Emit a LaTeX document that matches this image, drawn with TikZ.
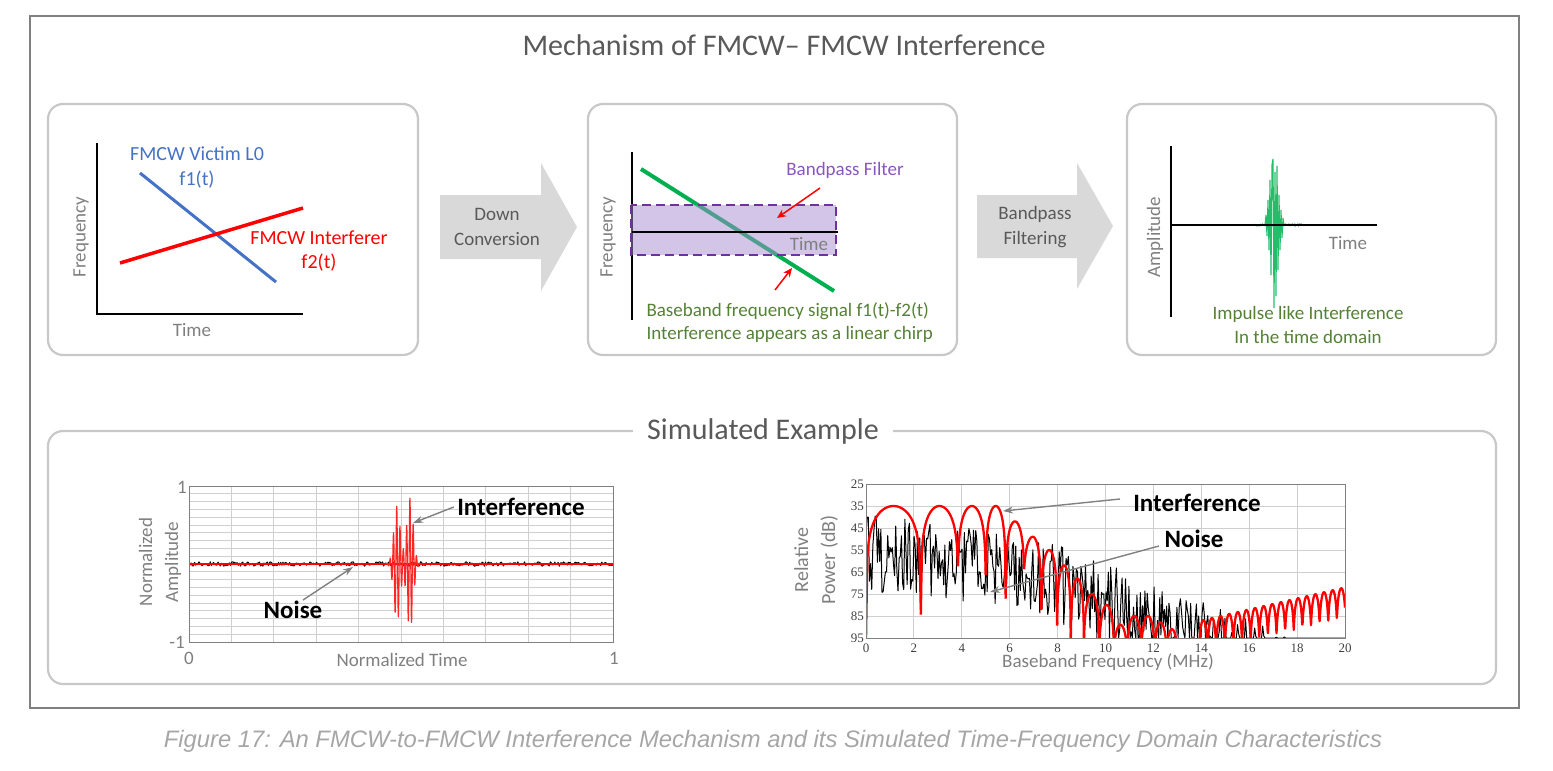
\documentclass[tikz,border=0pt]{standalone}
\usepackage{fontspec}
\setmainfont{Carlito}
\newfontfamily\capfont{Liberation Sans}
\newfontfamily\tickfont{Liberation Serif}
\usetikzlibrary{arrows.meta}
\definecolor{framec}{HTML}{808080}
\definecolor{panelc}{HTML}{C8C8C8}
\definecolor{ttl}{HTML}{595959}
\definecolor{axlab}{HTML}{7F7F7F}
\definecolor{vblue}{HTML}{4472C4}
\definecolor{bgreen}{HTML}{00B050}
\definecolor{tgreen}{HTML}{548235}
\definecolor{purp}{HTML}{7030A0}
\definecolor{purpt}{HTML}{8B55C0}
\definecolor{purpfill}{HTML}{A58CD2}
\definecolor{arrowfill}{HTML}{D9D9D9}
\definecolor{arrtxt}{HTML}{595959}
\definecolor{captxt}{HTML}{A6A6A6}
\definecolor{gridc}{HTML}{CFCFCF}
\definecolor{calloutc}{HTML}{808080}
\definecolor{tickc}{HTML}{404040}
\begin{document}
\begin{tikzpicture}[x=1pt,y=-1pt,
  panelbox/.style={draw=panelc, line width=2.2pt, rounded corners=15pt, minimum height=251pt},
  axisline/.style={black, line width=2.5pt},
  graylab/.style={text=axlab, font=\fontsize{19}{25}\selectfont, align=center},
  arrowtxt/.style={text=arrtxt, font=\fontsize{19}{25}\selectfont, align=center},
  callout/.style={-{Stealth[length=10pt,width=7pt]}, draw=calloutc, line width=1.4pt},
  boldlab/.style={font=\bfseries\fontsize{25}{30}\selectfont},
  redarr/.style={-{Stealth[length=9pt,width=8pt]}, red, line width=1.5pt},
  gridline/.style={gridc, line width=0.9pt},
  ticklab/.style={text=tickc, font=\tickfont\fontsize{13}{15}\selectfont},
  redcurve/.style={red, line width=2.3pt, line join=round},
  noiseline/.style={black, line width=1pt, line join=round},
]
\useasboundingbox (0,0) rectangle (1553,771);
\pgfmathsetseed{11}
% outer frame
\draw[framec, line width=2pt] (30,16) rectangle (1519,708);
\node[text=ttl, font=\fontsize{30}{36}\selectfont] (title) at (784,45) {Mechanism of FMCW\textendash{} FMCW Interference};

% panels
\node[panelbox, minimum width=370pt] (p1) at (233,229.5) {};
\node[panelbox, minimum width=369pt] (p2) at (772.5,229.5) {};
\node[panelbox, minimum width=369pt] (p3) at (1311.5,229.5) {};
\node[panelbox, minimum width=1448pt, minimum height=253pt] (sim) at (772,557.5) {};
\node[fill=white, text=ttl, font=\fontsize{30}{36}\selectfont, inner xsep=14pt] (simt) at (763,431) {Simulated Example};

% block arrows
\fill[arrowfill] (440,195) -- (541,195) -- (541,163) -- (577,227) -- (541,291) -- (541,259) -- (440,259) -- cycle;
\node[arrowtxt] (a1) at (497,227) {Down\\Conversion};
\fill[arrowfill] (977,195) -- (1077,195) -- (1077,163) -- (1113,226) -- (1077,289) -- (1077,258) -- (977,258) -- cycle;
\node[arrowtxt] (a2) at (1035,227) {Bandpass\\Filtering};

% panel 1
\draw[axisline] (97,143) -- (97,314) -- (303,314);
\draw[vblue, line width=3pt] (140,173) -- (276,282);
\draw[red, line width=3.5pt] (120,263) -- (303,208);
\node[text=vblue, font=\fontsize{20}{25}\selectfont, align=center] (victim) at (197,167) {FMCW Victim L0\\f1(t)};
\node[text=red, font=\fontsize{20}{24}\selectfont, align=center] (interf) at (319,251) {FMCW Interferer\\f2(t)};
\node[graylab, rotate=90] (freq1) at (81,237) {Frequency};
\node[graylab] (time1) at (192,330) {Time};

% panel 2
\draw[black, line width=2.2pt] (632,152) -- (632,320);
\draw[bgreen, line width=4pt] (641,169) -- (834,291);
\fill[purpfill, opacity=0.5] (631,205) rectangle (836,255);
\draw[black, line width=2.2pt] (632,232) -- (838,232);
\draw[purp, line width=2pt, dash pattern=on 9pt off 5pt] (631,205) rectangle (836,255);
\node[text=purpt, font=\fontsize{19}{23}\selectfont] (bpf) at (845,170) {Bandpass Filter};
\coordinate (bpfs) at (820,188);
\coordinate (bpfe) at (777,218);
\draw[redarr] (bpfs) -- (bpfe);
\coordinate (bbs) at (775,290);
\coordinate (bbe) at (792,268);
\draw[redarr] (bbs) -- (bbe);
\node[graylab] (time2) at (809,244) {Time};
\node[graylab, rotate=90] (freq2) at (608,237) {Frequency};
\node[text=tgreen, font=\fontsize{19}{23}\selectfont, align=left, anchor=west] (bb) at (643,323) {Baseband frequency signal f1(t)-f2(t)\\Interference appears as a linear chirp};

% panel 3
\draw[axisline] (1171,146) -- (1171,317);
\draw[bgreen!60, line width=0.8pt] plot[domain=1252:1303, samples=70, variable=\t] (\t,{225+1.5*rand});
\draw[bgreen!85, line width=1.1pt] (1265,225) -- (1266,215) -- (1267,236) -- (1268,200) -- (1269,250) -- (1270,180) -- (1271,275) -- (1272,165) -- (1273,159) -- (1274,308) -- (1275,172) -- (1276,296) -- (1277,166) -- (1278,270) -- (1279,195) -- (1280,250) -- (1281,210) -- (1282,238) -- (1283,218) -- (1284,225);
\draw[axisline] (1171,225) -- (1377,225);
\node[graylab] (time3) at (1348,243) {Time};
\node[graylab, rotate=90] (amp3) at (1155,237) {Amplitude};
\node[text=tgreen, font=\fontsize{19}{24}\selectfont, align=center] (imp) at (1308,325) {Impulse like Interference\\In the time domain};

% bottom-left chart
\foreach \i in {1,...,9} \draw[gridline] ({189+42.4*\i},486) -- ({189+42.4*\i},642);
\foreach \j in {1,...,19} \draw[gridline] (189,{486+7.8*\j}) -- (613,{486+7.8*\j});
\begin{scope}
\clip (189,486) rectangle (613,642);
\draw[black, line width=1pt, line join=round] plot[domain=189:613, samples=380, variable=\t] (\t,{564+2.2*rand});
\draw[red, line width=1.2pt] (189,564) -- (613,564);
\draw[red!85, line width=1.1pt, line join=round] plot[domain=386:422, samples=260, variable=\t] (\t,{564-(58*exp(-((\t-397)/4.5)^2)+66*exp(-((\t-410)/4.5)^2))*sin(deg(2*pi*(\t-386)/3.3))});
\end{scope}
\draw[framec, line width=1pt] (189,486) rectangle (613,642);
\node[graylab] (ly1) at (182,487) {1};
\node[graylab] (lym) at (177,642) {-1};
\node[graylab] (lx0) at (189,658) {0};
\node[graylab] (lx1) at (614,658) {1};
\node[graylab] (lxt) at (402,660) {Normalized Time};
\node[graylab, rotate=90, font=\fontsize{19}{26}\selectfont] (lyt) at (160,562) {Normalized\\Amplitude};
\node[boldlab] (lint) at (521,507) {Interference};
\coordinate (lintt) at (413,523);
\draw[callout] (lint.west) -- (lintt);
\node[boldlab] (lnoise) at (293,610) {Noise};
\coordinate (lnoises) at (303,600);
\coordinate (lnoiset) at (353,567);
\draw[callout] (lnoises) -- (lnoiset);

% bottom-right chart
\foreach \i in {1,...,9} \draw[gridline] ({866+47.9*\i},484) -- ({866+47.9*\i},638);
\foreach \j in {1,...,6} \draw[gridline] (866,{484+22*\j}) -- (1345,{484+22*\j});
\begin{scope}
\clip (866,484) rectangle (1345,638);
\draw[noiseline] plot[domain=0:20, samples=420, variable=\t] ({866+23.95*\t},{484+2.2*min(70,max(14,32+0.8*\t+3.5*max(\t-6,0)+18*rand))});
\foreach \la/\lb/\lp/\ldl/\ldr in {0/2.29/35/95/84, 2.29/3.84/35/84/62, 3.84/5.0/35/62/66, 5.0/5.83/35/66/77, 5.83/6.6/42/77/62, 6.6/7.32/49/62/82, 7.32/7.98/55/82/89, 7.98/8.55/62/89/96, 8.55/9.1/68/96/96, 9.1/9.75/75/96/96, 9.75/10.35/80/96/96, 10.35/10.9/89/96/96, 10.9/11.5/85/96/96, 11.5/12.05/85/96/96, 12.05/12.55/88/96/96, 12.55/13.0/91/96/96}{
  \pgfmathsetmacro\lc{(\la+\lb)/2}
  \pgfmathsetmacro\lh{(\lb-\la)/2}
  \pgfmathsetmacro\lel{pow(10,(\lp-\ldl)/20)}
  \pgfmathsetmacro\ler{pow(10,(\lp-\ldr)/20)}
  \draw[redcurve] plot[domain=\la:\lb, samples=41, variable=\t] ({866+23.95*\t},{484+2.2*(\lp-25-20*log10((cos(90*(\t-\lc)/\lh)+ifthenelse(\t<\lc,\lel,\ler))/(1+ifthenelse(\t<\lc,\lel,\ler))))});
}
\draw[redcurve] plot[domain=13.9:20, samples=500, variable=\t] ({866+23.95*\t},{484+2.2*(62-2.5*(\t-14)-20*log10((abs(sin(500*(\t-13.9)))+0.25)/1.25))});
\end{scope}
\draw[framec, line width=1pt] (866,484) rectangle (1345,638);
\foreach \v in {25,35,...,95} \node[ticklab, anchor=east, inner xsep=1pt] (ty\v) at (865,{484+2.2*(\v-25)}) {\v};
\foreach \f in {0,2,...,20} \node[ticklab] (tx\f) at ({866+23.95*\f},648) {\f};
\node[graylab] (rxt) at (1108,662) {Baseband Frequency (MHz)};
\node[graylab, rotate=90, font=\fontsize{20}{27}\selectfont] (ryt) at (816,560) {Relative\\Power (dB)};
\node[boldlab] (rint) at (1197,503) {Interference};
\coordinate (rints) at (1120,499);
\coordinate (rintt) at (1003,511);
\draw[callout] (rints) -- (rintt);
\node[boldlab] (rnoise) at (1194,539) {Noise};
\coordinate (rnoises) at (1159,546);
\coordinate (rnoiset) at (990,592);
\draw[callout] (rnoises) -- (rnoiset);

% caption
\node[text=captxt, font=\capfont\itshape\fontsize{23.8}{28}\selectfont] (cap) at (773,741) {Figure 17: An FMCW-to-FMCW Interference Mechanism and its Simulated Time-Frequency Domain Characteristics};
\end{tikzpicture}
\end{document}
